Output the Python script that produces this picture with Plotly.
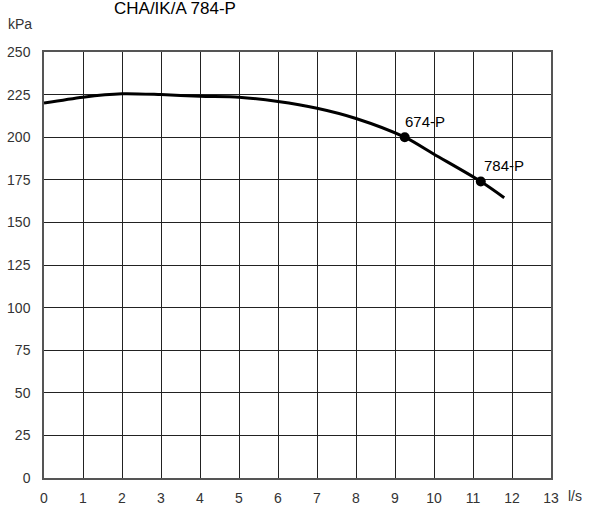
import plotly.graph_objects as go

flow = [0, 1, 2, 3, 4, 5, 6, 7, 8, 9.25, 10, 11.2, 11.8]
pressure = [220, 223.5, 225.5, 225, 224, 223.5, 221, 217, 211, 200, 190, 174, 164.5]
pt_x = [9.25, 11.2]
pt_y = [200, 174]
pt_labels = ["674-P", "784-P"]
x_ticks = list(range(0, 14))
y_ticks = list(range(0, 251, 25))

FONT = "Liberation Sans, Arial, sans-serif"

fig = go.Figure()
fig.add_trace(go.Scatter(x=flow, y=pressure, mode="lines", line=dict(color="black", width=3, shape="spline", smoothing=0.8), hoverinfo="skip"))
fig.add_trace(go.Scatter(x=pt_x, y=pt_y, mode="markers", marker=dict(color="black", size=10), hoverinfo="skip"))

for x, y, t, dx in zip(pt_x, pt_y, pt_labels, [20, 23]):
    fig.add_annotation(x=x, y=y, text=t, showarrow=False, xshift=dx, yshift=16,
                       xanchor="center", yanchor="middle",
                       font=dict(size=15, color="black", family=FONT))

fig.update_layout(
    width=589, height=507,
    margin=dict(l=44, r=38, t=52, b=29, autoexpand=False),
    paper_bgcolor="white", plot_bgcolor="white",
    showlegend=False,
    font=dict(family=FONT, size=14, color="#333"),
    xaxis=dict(range=[0, 13], tickvals=x_ticks, showgrid=True, gridcolor="#222", gridwidth=1,
               zeroline=False, showline=True, linecolor="#555", linewidth=1.5, mirror=True,
               ticks="", ticklabelstandoff=6, fixedrange=True, automargin=False),
    yaxis=dict(range=[0, 250], tickvals=y_ticks, showgrid=True, gridcolor="#222", gridwidth=1,
               zeroline=False, showline=True, linecolor="#555", linewidth=1.5, mirror=True,
               ticks="", ticklabelstandoff=9, fixedrange=True, automargin=False),
)

def px_to_paper(px, py):
    return (px - 44) / 507, (478 - py) / 426

tx, ty = px_to_paper(175, 9)
fig.add_annotation(xref="paper", yref="paper", x=tx, y=ty, text="CHA/IK/A 784-P",
                   xanchor="center", yanchor="middle",
                   showarrow=False, font=dict(size=17, color="black", family=FONT))
kx, ky = px_to_paper(20, 24)
fig.add_annotation(xref="paper", yref="paper", x=kx, y=ky, text="kPa",
                   xanchor="center", yanchor="middle",
                   showarrow=False, font=dict(size=14, color="#333", family=FONT))
lx, ly = px_to_paper(575, 496)
fig.add_annotation(xref="paper", yref="paper", x=lx, y=ly, text="l/s",
                   xanchor="center", yanchor="middle",
                   showarrow=False, font=dict(size=14, color="#333", family=FONT))

fig.write_html("out.html")
